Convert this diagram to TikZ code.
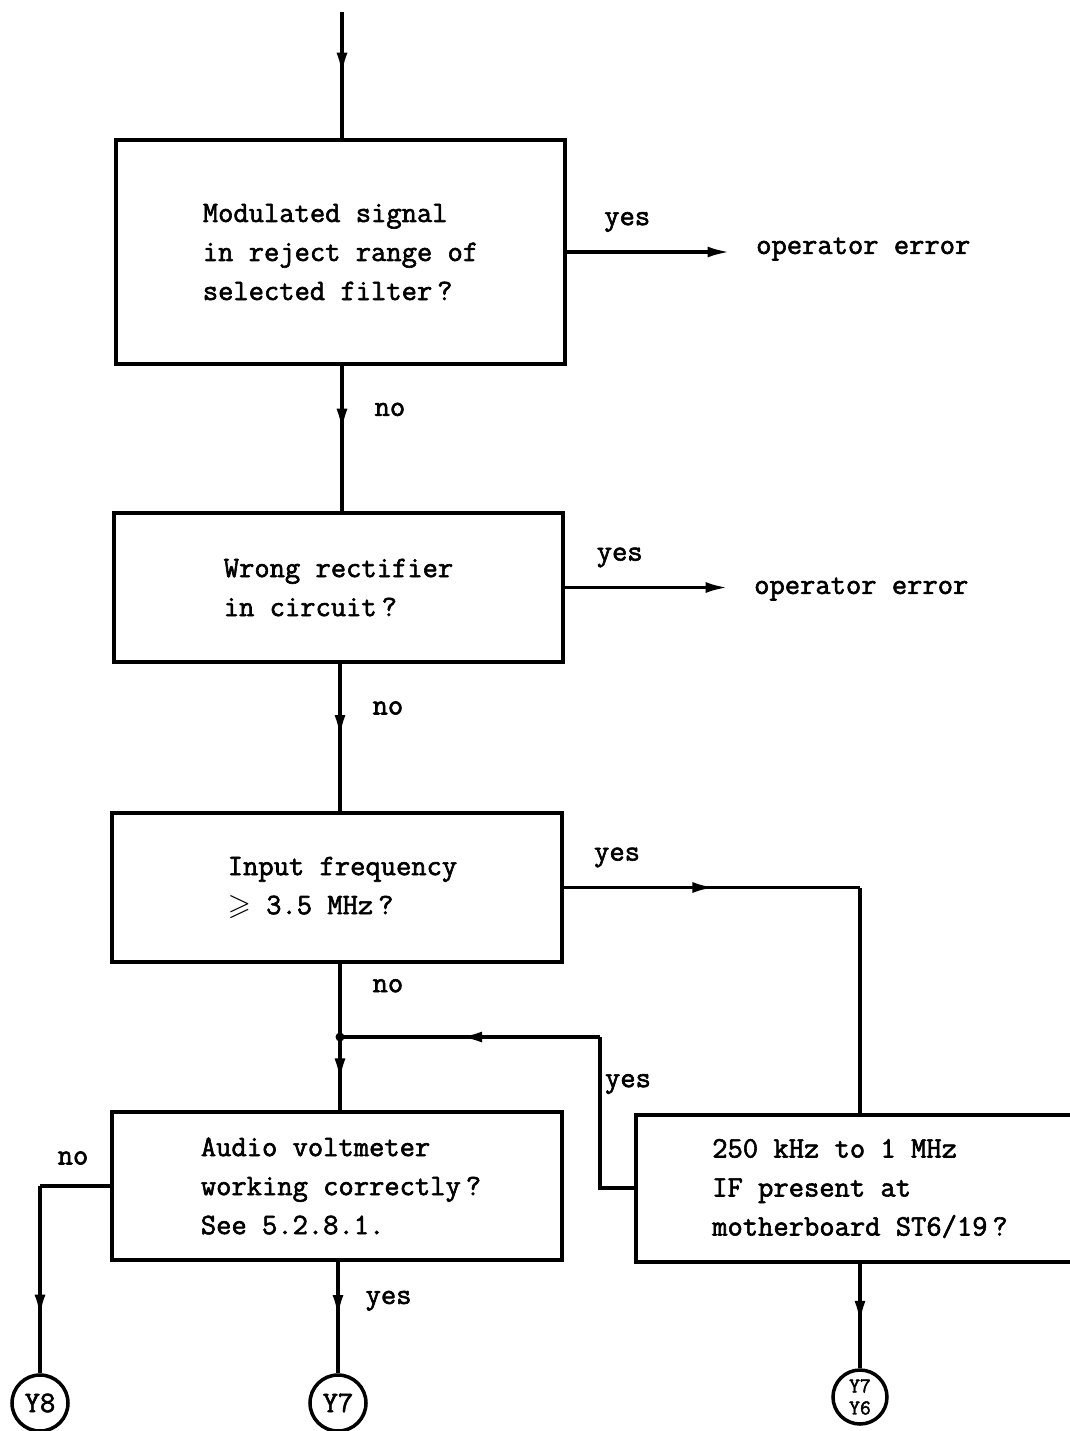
\documentclass[tikz,border=0pt]{standalone}
\usepackage{amssymb}
\usepackage{fontspec}
\setmonofont{Latin Modern Mono}[FakeBold=2]
\usetikzlibrary{arrows.meta,decorations.markings,positioning}

\begin{document}
\begin{tikzpicture}[
    every node/.style={font=\ttfamily\fontsize{16.9}{22.2}\selectfont},
    line/.style={line width=2pt},
    box/.style={draw, line width=2pt, align=left, inner sep=0pt},
    term/.style={draw, circle, line width=2pt, inner sep=0pt, minimum size=1.12cm},
    tip/.style={-{Latex[length=0.45cm,width=0.22cm]}},
    midarrow/.style={postaction={decorate}, decoration={markings,
        mark=at position #1 with {\arrow{Latex[length=0.45cm,width=0.22cm]}}}},
    midarrow/.default=0.5
]
    \useasboundingbox (0,0) rectangle (21.4,-28.62);

    % Boxes
    \node[box, minimum width=8.98cm, minimum height=4.48cm] (q1) at (6.81,-5.04)
        {Modulated signal\\in reject range of\\selected filter\,?};
    \node[box, minimum width=8.98cm, minimum height=2.98cm] (q2) at (6.77,-11.75)
        {Wrong rectifier\\in circuit\,?};
    \node[box, minimum width=9.0cm, minimum height=2.98cm] (q3) at (6.74,-17.75)
        {\hspace*{0.22cm}Input frequency\\\hspace*{0.22cm}$\geqslant$ 3.5 MHz\,?};
    \node[box, minimum width=9.0cm, minimum height=2.96cm] (q4) at (6.74,-23.72)
        {\hspace*{0.16cm}Audio voltmeter\\\hspace*{0.16cm}working correctly\,?\\\hspace*{0.16cm}See 5.2.8.1.};
    \node[box, minimum width=8.78cm, minimum height=2.94cm] (q5) at (17.11,-23.77)
        {\hspace*{0.18cm}250 kHz to 1 MHz\\\hspace*{0.18cm}IF present at\\\hspace*{0.18cm}motherboard ST6/19\,?};

    % Outcomes
    \node[anchor=west] (err1) at (15.0,-4.98) {operator error};
    \node[anchor=west] (err2) at (14.96,-11.78) {operator error};
    \node[term] (y8) at (0.8,-28.06) {Y8};
    \node[term] (y7) at (6.76,-28.06) {Y7};
    \node[term, minimum size=1.08cm, font=\ttfamily\fontsize{12}{12.5}\selectfont,
        align=center] (y76) at (17.2,-27.94) {Y7\\Y6};

    % Connectors
    \coordinate (start) at (6.84,-0.24);
    \draw[line, midarrow] (start) -- (start |- q1.north);
    \draw[line, tip, shorten >=0.4cm] (q1.east) -- (q1.east -| err1.west)
        node[pos=0.33, above=0.25cm] (yes1) {yes};
    \draw[line, midarrow=0.45] (q1.south -| start) -- (q2.north -| start)
        node[pos=0.3, right=0.5cm] (no1) {no};
    \coordinate (v2) at (6.8,-11.75);
    \draw[line, tip, shorten >=0.4cm] (q2.east) -- (q2.east -| err2.west)
        node[pos=0.3, above=0.25cm] (yes2) {yes};
    \draw[line, midarrow] (q2.south -| v2) -- (q3.north -| v2)
        node[pos=0.3, right=0.5cm] (no2) {no};

    \coordinate (c1) at (17.2,-17.75);
    \draw[line, midarrow=0.51] (q3.east) -- (c1)
        node[pos=0.18, above=0.25cm] (yes3) {yes};
    \draw[line] (c1) -- (c1 |- q5.north);

    \coordinate (jn) at (6.8,-20.74);
    \draw[line] (q3.south -| jn) -- (jn)
        node[pos=0.3, right=0.5cm] (no3) {no};
    \draw[line, midarrow=0.6] (jn) -- (q4.north -| jn);
    \fill (jn) circle (0.09);

    \coordinate (c2) at (12.0,-23.76);
    \draw[line] (q5.west |- c2) -- (c2) -- (c2 |- jn);
    \draw[line, midarrow=0.54] (c2 |- jn) -- (jn);
    \node (yes4) at (12.56,-21.68) {yes};

    \coordinate (c3) at (0.8,-23.72);
    \draw[line] (q4.west) -- (c3);
    \draw[line, midarrow=0.7] (c3) -- (y8.north);
    \node (no4) at (1.46,-23.16) {no};

    \draw[line, midarrow=0.5] (q4.south -| y7) -- (y7.north)
        node[pos=0.35, right=0.4cm] (yes5) {yes};
    \draw[line, midarrow=0.57] (q5.south -| y76) -- (y76.north);
\end{tikzpicture}
\end{document}
